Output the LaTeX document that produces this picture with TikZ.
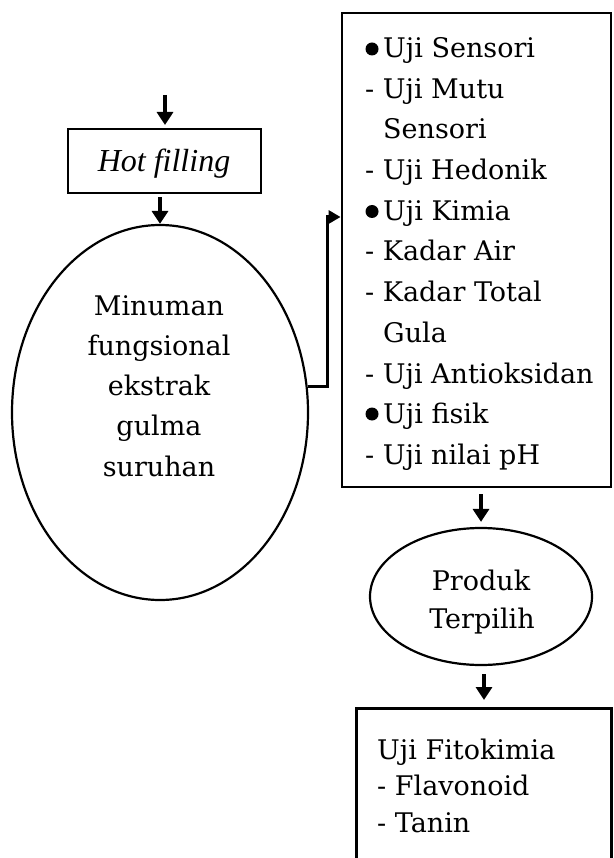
\documentclass[tikz,border=0pt]{standalone}
\usepackage{fontspec}
\setmainfont{DejaVu Serif}
\newfontfamily\timesfont{Liberation Serif}
\usetikzlibrary{arrows.meta,shapes.geometric}
\begin{document}
\begin{tikzpicture}[x=1pt,y=-1pt,
  arr/.style={line width=3.6pt,-{Triangle[length=13pt,width=16pt]}},
  boxline/.style={draw,line width=2.8pt,rectangle,inner sep=0pt},
  ell/.style={draw,line width=2.2pt,ellipse,inner sep=0pt},
  txt/.style={inner sep=0pt,anchor=base west,font=\fontsize{27}{30}\selectfont},
  ctxt/.style={inner sep=0pt,anchor=base,font=\fontsize{27}{30}\selectfont},
  bul/.style={circle,fill,inner sep=0pt,minimum size=13pt}]
\useasboundingbox (0,0) rectangle (613,858);
\clip (0,0) rectangle (613,858);
% Hot filling
\node[boxline,minimum width=193pt,minimum height=64pt] (hot) at (164.5,161) {};
\node[inner sep=0pt,anchor=base,font=\timesfont\itshape\fontsize{32}{36}\selectfont] (hottext) at (164,172) {Hot filling};
\coordinate (top) at (165,95);
\coordinate (topend) at (165,125);
\draw[arr] (top) -- (topend);
% main ellipse
\node[ell,minimum width=296pt,minimum height=375pt] (circ) at (160,412.5) {};
\draw[arr,shorten <=3pt] (circ.north |- hot.south) -- (circ.north);
\node[ctxt] (m1) at (159,315) {Minuman};
\node[ctxt] (m2) at (159,355) {fungsional};
\node[ctxt] (m3) at (159,395) {ekstrak};
\node[ctxt] (m4) at (159,435) {gulma};
\node[ctxt] (m5) at (159,476) {suruhan};
% right box
\node[boxline,minimum width=269pt,minimum height=474pt] (rbox) at (476.5,250) {};
\node[bul] (b1) at (372,49) {};
\node[txt] (r1) at (383,58) {Uji Sensori};
\node[txt] (r2) at (365,98.6) {- Uji Mutu};
\node[txt] (r3) at (383,139) {Sensori};
\node[txt] (r4) at (365,180) {- Uji Hedonik};
\node[bul] (b2) at (372,211.5) {};
\node[txt] (r5) at (383,220.5) {Uji Kimia};
\node[txt] (r6) at (365,261) {- Kadar Air};
\node[txt] (r7) at (365,301.6) {- Kadar Total};
\node[txt] (r8) at (383,342) {Gula};
\node[txt] (r9) at (365,383) {- Uji Antioksidan};
\node[bul] (b3) at (372,414) {};
\node[txt] (r10) at (383,423) {Uji fisik};
\node[txt] (r11) at (365,464) {- Uji nilai pH};
% connector ellipse -> right box
\coordinate (bend) at (327,217);
\draw[line width=3pt,-{Triangle[length=12pt,width=13pt]}] (circ.10.6) -| (bend) -- (bend -| rbox.west);
% Produk terpilih
\node[ell,minimum width=222pt,minimum height=137pt] (prod) at (481,596.5) {};
\node[ctxt] (p1) at (481,590) {Produk};
\node[ctxt] (p2) at (482,628) {Terpilih};
\draw[arr,shorten <=6pt,shorten >=5pt] (prod.north |- rbox.south) -- (prod.north);
% bottom box
\node[boxline,minimum width=255pt,minimum height=170pt,anchor=north west] (fbox) at (355,707) {};
\draw[arr,shorten <=8pt,shorten >=7pt] ([xshift=3pt]prod.south) -- ([xshift=3pt]prod.south |- fbox.north);
\node[txt] (f1) at (377,759) {Uji Fitokimia};
\node[txt] (f2) at (377,795) {- Flavonoid};
\node[txt] (f3) at (377,832) {- Tanin};
\end{tikzpicture}
\end{document}
